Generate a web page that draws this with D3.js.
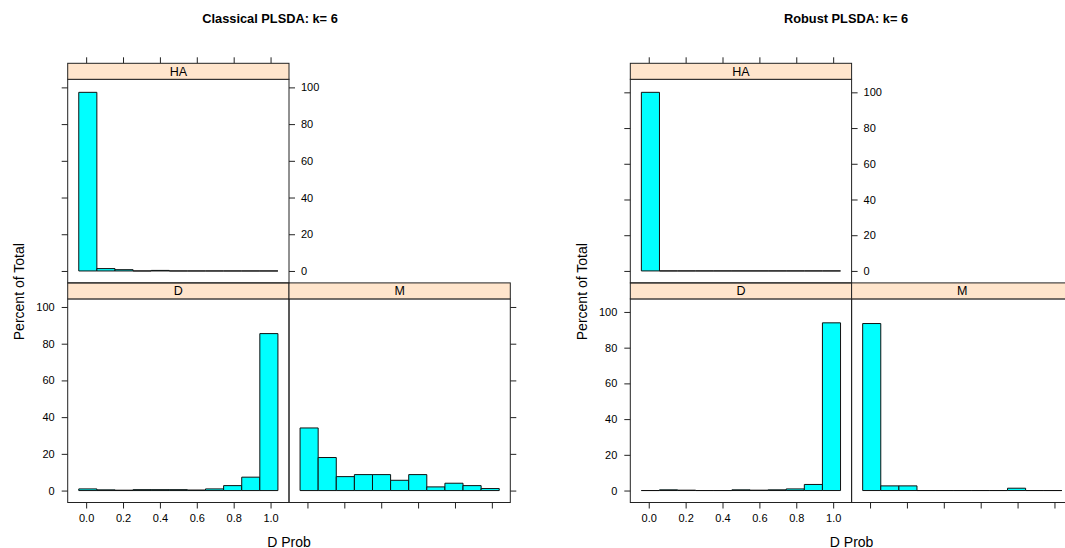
<!DOCTYPE html>
<html>
<head>
<meta charset="utf-8">
<script src="https://cdn.jsdelivr.net/npm/d3@7"></script>
<style>
  body { margin: 0; background: #fff; }
  svg text { font-family: "Liberation Sans", Arial, Helvetica, sans-serif; fill: #000; }
</style>
</head>
<body>
<div id="chart"></div>
<script>
// histogram bins (D Prob), 11 bins spanning the data range
var binLow = -0.04, binHigh = 1.04, binCount = 11;
var xTicks = [0, 0.2, 0.4, 0.6, 0.8, 1.0];
var yTicks = [0, 20, 40, 60, 80, 100];
var groups = ["D", "M", "HA"];

// percent of total per bin
var classicalHA = [97.3, 1.3, 0.7, 0, 0.3, 0, 0, 0, 0, 0, 0];
var classicalD = [0.9, 0.4, 0.2, 0.5, 0.5, 0.5, 0.3, 0.9, 2.7, 7.3, 85.5];
var classicalM = [34.1, 18.0, 7.6, 8.7, 8.7, 5.6, 8.7, 2.0, 4.0, 2.7, 1.1];

var robustHA = [100, 0, 0, 0, 0, 0, 0, 0, 0, 0, 0];
var robustD = [0, 0.4, 0.2, 0, 0, 0.4, 0.2, 0.4, 0.9, 3.4, 93.9];
var robustM = [93.5, 2.6, 2.6, 0, 0, 0, 0, 0, 1.3, 0, 0];

var width = 1065, height = 548;
var panelW = 221.3, panelH = 203.6, stripH = 16;

var svg = d3.select("#chart").append("svg")
  .attr("width", width)
  .attr("height", height);

var edges = d3.range(binCount + 1).map(function(i) {
  return binLow + i * (binHigh - binLow) / binCount;
});

function drawChart(opts) {
  var g = svg.append("g");
  var top = opts.top, left = opts.left;

  var x = d3.scaleLinear().domain([-0.1, 1.1]).range([0, panelW]);
  var y = d3.scaleLinear().domain(opts.ylim).range([panelH, 0]);

  // panel positions: row 1 (bottom) = D, M; row 2 (top) = HA
  var panels = [
    { name: "D", col: 0, row: 0, data: opts.D },
    { name: "M", col: 1, row: 0, data: opts.M },
    { name: "HA", col: 0, row: 1, data: opts.HA }
  ];

  panels.forEach(function(p) {
    var px = left + p.col * panelW;
    var py = top + (1 - p.row) * (panelH + stripH);
    var pg = g.append("g").attr("transform", "translate(" + px + "," + (py + stripH) + ")");

    // strip
    g.append("rect")
      .attr("x", px).attr("y", py)
      .attr("width", panelW).attr("height", stripH)
      .attr("fill", "#ffe5cc")
      .attr("stroke", "#222").attr("stroke-width", 1);
    g.append("text")
      .attr("x", px + panelW / 2).attr("y", py + stripH / 2 + 4.4)
      .attr("text-anchor", "middle")
      .style("font-size", "12.5px")
      .text(p.name);

    // bars
    pg.selectAll("path.bar")
      .data(p.data)
      .enter().append("path")
      .attr("class", "bar")
      .attr("d", function(d, i) {
        var x0 = x(edges[i]), x1 = x(edges[i + 1]);
        var y0 = y(0), y1 = y(d);
        return "M" + x0 + "," + y0 + "H" + x1 + "V" + y1 + "H" + x0 + "Z";
      })
      .attr("fill", "#00ffff")
      .attr("stroke", "#111")
      .attr("stroke-width", 1);

    // panel border
    pg.append("rect")
      .attr("width", panelW).attr("height", panelH)
      .attr("fill", "none")
      .attr("stroke", "#222").attr("stroke-width", 1);

    // x ticks
    if (p.row === 0) {
      var xa = d3.axisBottom(x).tickValues(xTicks).tickSizeOuter(0).tickSize(6).tickPadding(6)
        .tickFormat(p.col === 0 ? d3.format(".1f") : "");
      pg.append("g").attr("class", "axis").attr("transform", "translate(0," + panelH + ")").call(xa);
    } else {
      var xt = d3.axisTop(x).tickValues(xTicks).tickSizeOuter(0).tickSize(6).tickFormat("");
      pg.append("g").attr("class", "axis").attr("transform", "translate(0," + (-stripH) + ")").call(xt);
    }

    // y ticks
    if (p.col === 0) {
      var ya = d3.axisLeft(y).tickValues(yTicks).tickSizeOuter(0).tickSize(6).tickPadding(7)
        .tickFormat(p.row === 0 ? d3.format("d") : "");
      pg.append("g").attr("class", "axis").call(ya);
    }
    if (p.row === 1 || p.col === 1) {
      var yr = d3.axisRight(y).tickValues(yTicks).tickSizeOuter(0).tickSize(6).tickPadding(6)
        .tickFormat(p.row === 1 ? d3.format("d") : "");
      pg.append("g").attr("class", "axis").attr("transform", "translate(" + panelW + ",0)").call(yr);
    }
  });

  g.selectAll(".axis .domain").remove();
  g.selectAll(".axis line").attr("stroke", "#222");
  g.selectAll(".axis text").style("font-size", "11px").attr("fill", "#000");

  // titles and labels
  g.append("text")
    .attr("x", opts.titleX).attr("y", 23)
    .attr("text-anchor", "middle")
    .style("font-size", "12.8px").style("font-weight", "bold")
    .text(opts.title);

  g.append("text")
    .attr("transform", "translate(" + (left - 43.5) + ",291.7) rotate(-90)")
    .attr("text-anchor", "middle")
    .style("font-size", "14px")
    .text("Percent of Total");

  g.append("text")
    .attr("x", left + panelW).attr("y", 546.5)
    .attr("text-anchor", "middle")
    .style("font-size", "14px")
    .text("D Prob");
}

drawChart({
  title: "Classical PLSDA: k= 6", titleX: 270,
  left: 67.7, top: 63.3, ylim: [-6.5, 104.4],
  HA: classicalHA, D: classicalD, M: classicalM
});

drawChart({
  title: "Robust PLSDA: k= 6", titleX: 846,
  left: 630.3, top: 63.3, ylim: [-6.7, 107.3],
  HA: robustHA, D: robustD, M: robustM
});
</script>
</body>
</html>
